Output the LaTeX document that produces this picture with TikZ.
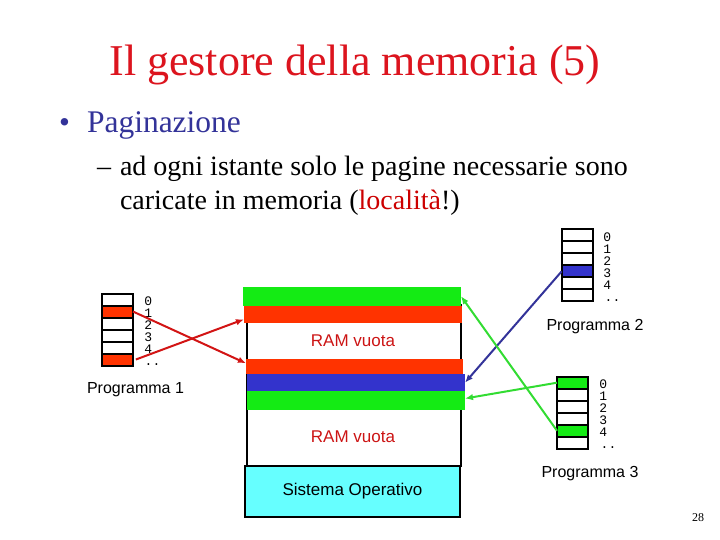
\documentclass[tikz,border=0pt]{standalone}
\usepackage{fontspec}
\setmainfont{Liberation Serif}
\newfontfamily\sansf{Liberation Sans}
\newfontfamily\monof{Liberation Mono}
\usetikzlibrary{arrows.meta}
\definecolor{titlered}{RGB}{220,20,30}
\definecolor{txtblue}{RGB}{51,51,153}
\definecolor{locred}{RGB}{204,0,0}
\definecolor{ramred}{RGB}{204,20,20}
\definecolor{bargreen}{RGB}{20,235,20}
\definecolor{barred}{RGB}{255,51,0}
\definecolor{barblue}{RGB}{51,51,204}
\definecolor{oscyan}{RGB}{102,255,255}
\definecolor{arrred}{RGB}{210,20,20}
\definecolor{arrblue}{RGB}{51,51,153}
\definecolor{arrgreen}{RGB}{50,220,50}
\tikzset{
  txt/.style={inner sep=0pt, outer sep=0pt},
  cell/.style={draw=black, line width=2pt, minimum width=31pt, minimum height=12pt, inner sep=0pt, outer sep=0pt},
  digit/.style={inner sep=0pt, text height=8.6pt, text depth=0pt, font=\monof\fontsize{13}{12}\selectfont},
  bar/.style={draw=none, inner sep=0pt, outer sep=0pt},
  conn/.style={line width=2pt, -{Latex[length=8pt,width=6.5pt]}},
  prog/.style={inner sep=0pt, font=\sansf\fontsize{16}{18}\selectfont},
}
\begin{document}
\begin{tikzpicture}[x=1pt,y=-1pt]
\useasboundingbox (0,0) rectangle (720,540);
% title and text
\node[txt, anchor=base, text=titlered, font=\fontsize{44}{50}\selectfont] (title) at (355,76) {Il gestore della memoria (5)};
\node[txt, anchor=base west, text=txtblue, font=\fontsize{31}{36}\selectfont] (bul) at (59,133) {\textbullet};
\node[txt, anchor=base west, text=txtblue, font=\fontsize{31.5}{36}\selectfont] (pag) at (87,133) {Paginazione};
\node[txt, anchor=base west, font=\fontsize{28}{32}\selectfont] (dash) at (97,176) {–};
\node[txt, anchor=base west, font=\fontsize{28}{32}\selectfont] (l1) at (120,176) {ad ogni istante solo le pagine necessarie sono};
\node[txt, anchor=base west, font=\fontsize{28}{32}\selectfont] (l2) at (120,210) {caricate in memoria (\textcolor{locred}{località}!)};
% RAM
\draw[black, line width=2pt] (246.7,305) rectangle (461,466);
\node[bar, fill=bargreen, minimum width=218pt, minimum height=19pt] (g1) at (352,296.2) {};
\node[bar, fill=barred, minimum width=218pt, minimum height=17.6pt] (red1) at (353,314.5) {};
\node[bar, fill=barred, minimum width=217pt, minimum height=15pt] (red2) at (354.5,366.8) {};
\node[bar, fill=barblue, minimum width=218.3pt, minimum height=16.7pt] (blue) at (355.85,382.65) {};
\node[bar, fill=bargreen, minimum width=218.3pt, minimum height=19pt] (g2) at (355.85,400.5) {};
\node[txt, text=ramred, font=\sansf\fontsize{17}{20}\selectfont] (v1) at (353,341) {RAM vuota};
\node[txt, text=ramred, font=\sansf\fontsize{17}{20}\selectfont] (v2) at (353,437) {RAM vuota};
\node[draw=black, line width=2.2pt, fill=oscyan, minimum width=215pt, minimum height=51pt, inner sep=0pt, font=\sansf\fontsize{17}{20}\selectfont] (os) at (352.5,491.5) {Sistema Operativo};
% Programma 1 table
\foreach \i/\f in {0/white,1/barred,2/white,3/white,4/white,5/barred}
  \node[cell, fill=\f] (p1r\i) at (117.4,299.5+12*\i) {};
\foreach \i in {0,...,4}
  \node[digit] (p1d\i) at (148.3,301+12*\i) {\i};
\node[digit, anchor=base west] (p1dots) at (144.5,365.5) {..};
\node[prog] (prog1) at (135.5,390) {Programma 1};
% Programma 2 table
\foreach \i/\f in {0/white,1/white,2/white,3/barblue,4/white,5/white}
  \node[cell, fill=\f] (p2r\i) at (577.2,235.3+12*\i) {};
\foreach \i in {0,...,4}
  \node[digit] (p2d\i) at (607.3,236.8+12*\i) {\i};
\node[digit, anchor=base west] (p2dots) at (604.5,301.5) {..};
\node[prog] (prog2) at (595,327) {Programma 2};
% Programma 3 table
\foreach \i/\f in {0/bargreen,1/white,2/white,3/white,4/bargreen,5/white}
  \node[cell, fill=\f] (p3r\i) at (572.5,382.7+12*\i) {};
\foreach \i in {0,...,4}
  \node[digit] (p3d\i) at (603.3,384*1+12*\i) {\i};
\node[digit, anchor=base west] (p3dots) at (600.5,448) {..};
\node[prog] (prog3) at (590,474) {Programma 3};
% connectors
\draw[conn, arrred] (p1r1.east) -- ([yshift=3.5pt]red2.west);
\draw[conn, arrred] ([xshift=3pt]p1r5.east) -- ([yshift=-4.8pt]red1.west);
\draw[conn, arrblue] (p2r3.west) -- (blue.east);
\draw[conn, arrgreen] (p3r4.west) -- (g1.east);
\draw[conn, arrgreen] (p3r0.west) -- ([yshift=2pt]g2.east);
% page number
\node[txt, font=\fontsize{12}{14}\selectfont] (pnum) at (698,518) {28};
\end{tikzpicture}
\end{document}
